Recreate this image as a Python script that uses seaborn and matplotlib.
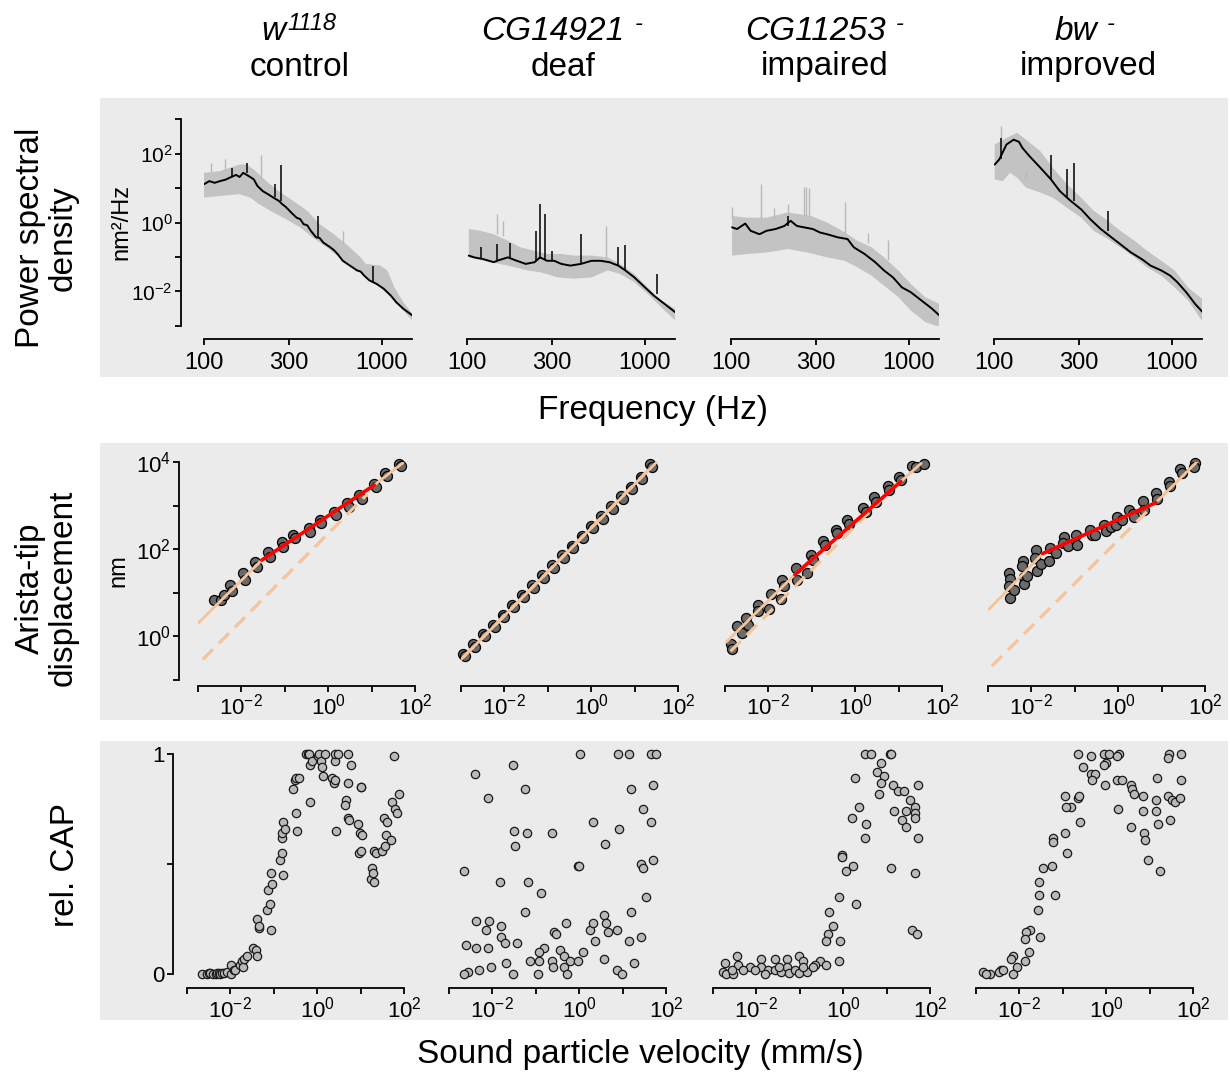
import matplotlib
matplotlib.use('Agg')
import matplotlib.pyplot as plt
import numpy as np
import seaborn as sns
from matplotlib.patches import Rectangle
from matplotlib.ticker import FixedLocator, FixedFormatter, NullLocator

# ---------------- data (log10 values) ----------------
GENE_NAMES = ['w', 'CG14921', 'CG11253', 'bw']
GENE_SUPS = ['1118', '-', '-', '-']
PHENOTYPES = ['control', 'deaf', 'impaired', 'improved']

# power spectral density: mean curve, band upper/lower, spikes (log10 Hz, log10 nm^2/Hz)
w_psd_f = [2.00, 2.03, 2.06, 2.09, 2.12, 2.145, 2.18, 2.20, 2.22, 2.25, 2.28, 2.30, 2.33, 2.36, 2.39, 2.42, 2.44,
           2.46, 2.49, 2.52, 2.54, 2.56, 2.58, 2.60, 2.63, 2.65, 2.67, 2.71, 2.73, 2.75, 2.78, 2.82, 2.86, 2.88,
           2.90, 2.93, 2.97, 3.01, 3.05, 3.08, 3.12, 3.17]
w_psd_p = [1.11, 1.20, 1.15, 1.20, 1.24, 1.30, 1.38, 1.32, 1.44, 1.35, 1.25, 1.06, 0.91, 0.82, 0.72, 0.63, 0.53,
           0.45, 0.29, 0.14, 0.10, -0.05, -0.08, -0.24, -0.43, -0.45, -0.58, -0.72, -0.80, -0.91, -1.11, -1.25,
           -1.39, -1.42, -1.54, -1.68, -1.78, -1.92, -2.12, -2.31, -2.50, -2.69]
w_up_f = [2.00, 2.09, 2.20, 2.24, 2.29, 2.35, 2.43, 2.50, 2.58, 2.65, 2.73, 2.80, 2.88, 2.91, 2.99, 3.03, 3.07, 3.12, 3.17]
w_up_p = [1.44, 1.49, 1.68, 1.68, 1.49, 1.20, 0.87, 0.63, 0.34, -0.05, -0.34, -0.63, -1.01, -1.20, -1.25, -1.39, -1.88, -2.31, -2.64]
w_lo_f = [2.00, 2.09, 2.20, 2.26, 2.31, 2.39, 2.46, 2.54, 2.61, 2.69, 2.76, 2.84, 2.91, 2.99, 3.07, 3.12, 3.17]
w_lo_p = [0.72, 0.77, 0.82, 0.72, 0.53, 0.29, 0.10, -0.14, -0.43, -0.72, -1.01, -1.30, -1.59, -1.88, -2.26, -2.55, -2.84]
w_spk_f = [2.16, 2.24, 2.40, 2.43, 2.64, 2.95]
w_spk_lo = [1.32, 1.44, 0.75, 0.62, -0.45, -1.75]
w_spk_hi = [1.59, 1.73, 1.11, 1.66, 0.19, -1.25]
w_gspk_f = [2.04, 2.12, 2.32, 2.78]
w_gspk_lo = [1.45, 1.50, 1.30, -0.60]
w_gspk_hi = [1.73, 1.83, 1.97, -0.24]

d_psd_f = [2.01, 2.04, 2.09, 2.15, 2.18, 2.23, 2.28, 2.33, 2.38, 2.41, 2.45, 2.49, 2.53, 2.58, 2.64, 2.70, 2.75,
           2.80, 2.85, 2.89, 2.94, 3.00, 3.05, 3.11, 3.17]
d_psd_p = [-0.96, -1.01, -1.06, -1.15, -1.09, -1.01, -1.11, -1.20, -1.15, -1.01, -1.11, -1.11, -1.20, -1.25, -1.20,
           -1.11, -1.11, -1.15, -1.25, -1.39, -1.59, -1.88, -2.12, -2.36, -2.60]
d_up_f = [2.01, 2.075, 2.15, 2.23, 2.30, 2.38, 2.45, 2.53, 2.60, 2.70, 2.79, 2.86, 2.94, 3.015, 3.09, 3.17]
d_up_p = [-0.19, -0.24, -0.34, -0.53, -0.72, -0.82, -0.91, -0.91, -0.96, -0.96, -1.01, -1.20, -1.49, -1.88, -2.26, -2.50]
d_lo_f = [2.01, 2.13, 2.23, 2.34, 2.41, 2.51, 2.60, 2.70, 2.79, 2.86, 2.94, 3.015, 3.09, 3.17]
d_lo_p = [-1.01, -1.15, -1.25, -1.39, -1.44, -1.59, -1.63, -1.59, -1.39, -1.49, -1.73, -2.07, -2.45, -2.84]
d_spk_f = [2.08, 2.17, 2.24, 2.39, 2.41, 2.44, 2.48, 2.64, 2.85, 2.89, 3.07]
d_spk_lo = [-1.06, -1.12, -1.02, -1.12, -1.05, -1.10, -1.11, -1.20, -1.25, -1.39, -2.08]
d_spk_hi = [-0.72, -0.63, -0.58, -0.24, 0.55, 0.24, -0.84, -0.32, -0.72, -0.65, -1.49]
d_gspk_f = [2.17, 2.20, 2.78]
d_gspk_lo = [-0.34, -0.40, -1.00]
d_gspk_hi = [0.26, 0.05, -0.10]

i_psd_f = [2.006, 2.034, 2.08, 2.11, 2.16, 2.20, 2.25, 2.30, 2.335, 2.37, 2.41, 2.46, 2.50, 2.54, 2.60, 2.655,
           2.69, 2.75, 2.81, 2.86, 2.91, 2.96, 3.01, 3.07, 3.13, 3.17]
i_psd_p = [-0.14, -0.19, -0.03, -0.24, -0.34, -0.24, -0.19, -0.10, 0.05, -0.10, -0.14, -0.19, -0.29, -0.34, -0.43,
           -0.48, -0.72, -0.91, -1.15, -1.39, -1.59, -1.88, -2.02, -2.26, -2.50, -2.69]
i_up_f = [2.006, 2.09, 2.20, 2.32, 2.45, 2.54, 2.64, 2.71, 2.79, 2.86, 2.94, 3.01, 3.09, 3.17]
i_up_p = [0.19, 0.14, 0.14, 0.29, 0.19, 0.00, -0.29, -0.53, -0.72, -1.01, -1.39, -1.78, -2.16, -2.36]
i_lo_f = [2.006, 2.10, 2.20, 2.32, 2.43, 2.54, 2.64, 2.71, 2.79, 2.86, 2.94, 3.01, 3.09, 3.17]
i_lo_p = [-0.96, -0.91, -0.87, -0.77, -0.87, -1.01, -1.11, -1.30, -1.54, -1.83, -2.16, -2.55, -2.88, -3.03]
i_spk_f = [2.32]
i_spk_lo = [-0.10]
i_spk_hi = [0.19]
i_gspk_f = [2.006, 2.17, 2.24, 2.32, 2.41, 2.42, 2.44, 2.64, 2.77, 2.88]
i_gspk_lo = [0.10, 0.10, 0.10, 0.20, 0.20, 0.20, 0.20, -0.30, -0.60, -1.10]
i_gspk_hi = [0.45, 1.11, 0.43, 0.55, 1.03, 1.03, 0.99, 0.58, -0.31, -0.51]

b_psd_f = [2.004, 2.03, 2.07, 2.11, 2.14, 2.16, 2.20, 2.26, 2.32, 2.37, 2.43, 2.49, 2.54, 2.60, 2.66, 2.71, 2.77,
           2.83, 2.88, 2.94, 2.99, 3.03, 3.08, 3.13, 3.18]
b_psd_p = [1.68, 1.83, 2.26, 2.40, 2.34, 2.16, 1.92, 1.59, 1.25, 0.91, 0.63, 0.38, 0.10, -0.19, -0.43, -0.63, -0.87,
           -1.06, -1.25, -1.39, -1.54, -1.73, -2.02, -2.36, -2.64]
b_up_f = [2.004, 2.07, 2.13, 2.18, 2.26, 2.33, 2.41, 2.49, 2.56, 2.64, 2.71, 2.79, 2.86, 2.94, 3.015, 3.09, 3.18]
b_up_p = [2.26, 2.45, 2.60, 2.40, 2.07, 1.59, 1.11, 0.72, 0.34, 0.05, -0.24, -0.53, -0.82, -1.11, -1.39, -1.88, -2.26]
b_lo_f = [2.004, 2.05, 2.09, 2.13, 2.18, 2.26, 2.33, 2.41, 2.49, 2.56, 2.64, 2.71, 2.79, 2.86, 2.94, 3.015, 3.09, 3.18]
b_lo_p = [1.25, 1.20, 1.44, 1.30, 1.01, 0.87, 0.72, 0.43, 0.14, -0.24, -0.48, -0.72, -1.01, -1.30, -1.54, -1.88, -2.26, -2.93]
b_spk_f = [2.04, 2.32, 2.41, 2.45, 2.64]
b_spk_lo = [1.85, 1.25, 0.75, 0.62, -0.25]
b_spk_hi = [2.45, 1.97, 1.54, 1.73, 0.34]
b_gspk_f = [2.04, 2.18]
b_gspk_lo = [2.30, 1.30]
b_gspk_hi = [2.79, 1.49]

# arista-tip displacement vs sound particle velocity (log10 mm/s, log10 nm)
w_dv = [-2.62, -2.47, -2.39, -2.27, -2.21, -1.96, -1.92, -1.69, -1.65, -1.38, -1.34, -1.07, -1.03, -0.80, -0.76, -0.45,
        -0.41, -0.18, -0.16, 0.13, 0.17, 0.43, 0.48, 0.71, 0.77, 1.05, 1.10, 1.31, 1.36, 1.64, 1.68]
w_dx = [0.84, 0.84, 0.95, 1.18, 1.03, 1.45, 1.30, 1.71, 1.60, 1.94, 1.81, 2.17, 2.06, 2.32, 2.25, 2.48, 2.40, 2.67,
        2.59, 2.86, 2.78, 3.06, 2.97, 3.24, 3.16, 3.50, 3.43, 3.75, 3.67, 3.96, 3.90]
w_fit_v, w_fit_x = [-3.00, -1.53, 1.06, 1.72], [0.30, 1.75, 3.47, 3.98]
w_lin_v, w_lin_x = [-2.89, 0.90], [-0.53, 3.26]
w_red_v, w_red_x = [-1.53, 1.06], [1.75, 3.47]

d_dv = [-2.95, -2.90, -2.72, -2.68, -2.50, -2.45, -2.27, -2.22, -2.04, -2.00, -1.82, -1.77, -1.59, -1.54, -1.36,
        -1.31, -1.13, -1.09, -0.91, -0.86, -0.68, -0.63, -0.45, -0.41, -0.22, -0.18, 0.00, 0.05, 0.23, 0.27, 0.45,
        0.50, 0.68, 0.73, 0.91, 0.95, 1.14, 1.18, 1.36, 1.41]
d_dx = [-0.41, -0.45, -0.18, -0.24, 0.05, 0.00, 0.27, 0.22, 0.50, 0.44, 0.72, 0.67, 0.95, 0.90, 1.18, 1.12, 1.41,
        1.35, 1.63, 1.58, 1.86, 1.80, 2.08, 2.03, 2.31, 2.25, 2.53, 2.48, 2.76, 2.70, 2.98, 2.93, 3.21, 3.15, 3.43,
        3.38, 3.66, 3.60, 3.95, 3.88]
d_fit_v, d_fit_x = [-3.00, 1.51], [-0.53, 4.00]
d_lin_v, d_lin_x = [-2.95, 1.45], [-0.48, 3.95]
d_red_v, d_red_x = [], []

i_dv = [-2.87, -2.83, -2.72, -2.60, -2.52, -2.48, -2.24, -2.25, -1.95, -1.98, -1.72, -1.68, -1.64, -1.37, -1.33,
        -1.10, -1.02, -0.98, -0.75, -0.70, -0.45, -0.41, -0.18, -0.14, 0.19, 0.25, 0.44, 0.48, 0.75, 0.78, 1.02,
        1.05, 1.32, 1.40, 1.58]
i_dx = [-0.18, -0.30, 0.25, 0.08, 0.43, 0.27, 0.72, 0.58, 0.98, 0.62, 0.86, 1.30, 1.15, 1.57, 1.30, 1.46, 1.87,
        1.76, 2.18, 2.10, 2.45, 2.37, 2.67, 2.58, 2.94, 2.86, 3.19, 3.09, 3.44, 3.36, 3.66, 3.59, 3.91, 3.89, 3.95]
i_fit_v, i_fit_x = [-2.98, -1.39, 1.05, 1.52], [-0.14, 1.42, 3.55, 3.97]
i_lin_v, i_lin_x = [-2.87, 1.00], [-0.34, 3.53]
i_red_v, i_red_x = [-1.39, 1.05], [1.42, 3.55]

b_dv = [-2.52, -2.50, -2.52, -2.50, -2.39, -2.19, -2.21, -2.16, -2.17, -2.09, -1.90, -1.92, -1.86, -1.78, -1.59,
        -1.57, -1.43, -1.24, -1.28, -1.16, -0.97, -0.95, -0.66, -0.60, -0.54, -0.33, -0.29, -0.17, -0.06, -0.02,
        0.08, 0.25, 0.35, 0.37, 0.58, 0.60, 0.87, 0.89, 1.16, 1.20, 1.43, 1.47, 1.78, 1.74]
b_dx = [1.46, 1.32, 1.15, 0.88, 1.07, 1.72, 1.62, 1.36, 1.21, 1.38, 1.99, 1.80, 1.49, 1.65, 1.74, 2.03, 1.91, 2.29,
        2.14, 2.08, 2.33, 2.10, 2.45, 2.33, 2.33, 2.56, 2.41, 2.52, 2.56, 2.75, 2.66, 2.90, 2.81, 2.74, 3.11, 2.90,
        3.30, 3.15, 3.55, 3.44, 3.83, 3.74, 3.97, 3.89]
b_fit_v, b_fit_x = [-2.98, -1.74, 0.87, 1.82], [0.62, 1.90, 3.07, 4.01]
b_lin_v, b_lin_x = [-2.91, 0.85], [-0.68, 3.05]
b_red_v, b_red_x = [-1.74, 0.87], [1.90, 3.07]

# relative compound action potential vs sound particle velocity (log10 mm/s, rel.)
w_cv = [-2.65, -2.55, -2.49, -2.46, -2.40, -2.34, -2.30, -2.27, -2.23, -2.19, -2.14, -2.08, -1.98, -1.98, -1.92,
        -1.89, -1.77, -1.73, -1.70, -1.68, -1.62, -1.47, -1.42, -1.38, -1.38, -1.35, -1.33, -1.15, -1.09, -1.13,
        -1.07, -1.07, -1.03, -0.86, -0.80, -0.78, -0.82, -0.80, -0.78, -0.75, -0.56, -0.52, -0.48, -0.43, -0.49,
        -0.46, -0.25, -0.21, -0.19, -0.17, -0.16, -0.12, 0.02, 0.05, 0.09, 0.11, 0.13, 0.17, 0.34, 0.38, 0.40, 0.42,
        0.42, 0.43, 0.47, 0.70, 0.70, 0.66, 0.65, 0.72, 0.74, 0.78, 1.00, 1.02, 0.93, 0.98, 1.04, 0.97, 1.00, 1.23,
        1.27, 1.29, 1.31, 1.31, 1.36, 1.50, 1.54, 1.57, 1.59, 1.61, 1.71, 1.73, 1.76, 1.80, 1.84, 1.88]
w_cap = [0.00, 0.00, 0.003, 0.003, 0.00, 0.00, 0.006, 0.003, 0.00, 0.006, 0.003, 0.01, 0.00, 0.04, 0.02, 0.02, 0.04,
         0.06, 0.03, 0.07, 0.08, 0.12, 0.11, 0.08, 0.25, 0.21, 0.22, 0.29, 0.32, 0.38, 0.20, 0.46, 0.41, 0.52, 0.55,
         0.45, 0.62, 0.64, 0.69, 0.66, 0.84, 0.88, 0.89, 0.89, 0.73, 0.65, 1.00, 1.00, 1.00, 0.95, 0.78, 0.97, 0.99,
         1.00, 0.97, 0.94, 0.90, 1.00, 0.89, 0.87, 0.97, 1.00, 0.88, 0.65, 1.00, 1.00, 0.87, 0.79, 0.77, 0.71, 0.70,
         0.95, 0.85, 0.85, 0.68, 0.64, 0.63, 0.55, 0.56, 0.43, 0.48, 0.46, 0.42, 0.56, 0.55, 0.56, 0.71, 0.58, 0.63,
         0.69, 0.61, 0.78, 0.99, 0.75, 0.73, 0.82]

d_cv = [0.02, 0.90, 1.15, 1.65, 1.78, -2.40, -1.53, -2.09, -1.25, 1.19, 1.70, 1.47, 1.66, 0.31, 0.91, -1.50, -1.21,
        -0.63, 0.60, -1.47, -0.03, 0.00, 1.42, 1.47, 1.70, -2.65, -1.83, -1.18, -0.88, 1.55, -1.24, 0.56, 1.20, -2.38,
        -2.08, -2.14, -1.80, -1.80, -1.72, -1.43, -0.31, -0.59, -0.53, 0.25, 0.31, 0.62, 0.67, 0.86, 0.37, 1.15, 1.42,
        -2.60, -2.38, -2.11, -0.82, -0.92, -0.44, 0.08, -1.14, -0.93, -0.63, -0.34, -0.21, -0.03, 0.56, -1.68, -2.04,
        -2.32, -2.57, -2.65, -1.53, -0.95, -0.60, -0.36, -0.28, 0.86, 0.98, 1.27]
d_cap = [1.00, 1.00, 1.00, 1.00, 1.00, 0.91, 0.95, 0.80, 0.84, 0.84, 0.86, 0.75, 0.69, 0.69, 0.66, 0.65, 0.64, 0.64,
         0.59, 0.58, 0.49, 0.49, 0.50, 0.48, 0.52, 0.47, 0.42, 0.42, 0.37, 0.35, 0.28, 0.27, 0.28, 0.24, 0.24, 0.20,
         0.22, 0.17, 0.14, 0.14, 0.23, 0.19, 0.18, 0.20, 0.23, 0.23, 0.19, 0.20, 0.15, 0.15, 0.17, 0.13, 0.12, 0.12,
         0.12, 0.10, 0.11, 0.10, 0.06, 0.06, 0.06, 0.08, 0.06, 0.06, 0.07, 0.05, 0.03, 0.02, 0.01, 0.00, 0.00, 0.00,
         0.03, 0.03, 0.00, 0.02, 0.00, 0.05]

i_cv = [0.50, 0.63, 1.07, 1.11, 0.86, 0.79, 0.95, 0.88, 0.82, 0.27, 1.15, 1.26, 1.40, 1.53, 1.73, 0.37, 0.20, 0.52,
        0.50, 1.17, 1.44, 1.36, 1.45, 1.66, 1.66, 1.66, 1.73, -0.03, -0.03, 0.06, 0.22, 1.09, 1.66, -0.09, 0.30,
        -0.32, -0.24, -0.34, -0.40, -0.08, 1.59, 1.69, -0.09, -0.53, -0.40, -0.66, -1.01, -0.93, -1.29, -1.58, -1.90,
        -2.44, -2.73, -2.42, -2.15, -1.89, -1.73, -1.58, -1.43, -1.30, -1.24, -1.12, -1.01, -0.84, -0.70, -2.76,
        -2.70, -2.53, -2.31, -2.04, -1.81, -2.57, -1.47, -0.93]
i_cap = [1.00, 1.00, 1.00, 1.00, 0.96, 0.92, 0.90, 0.87, 0.82, 0.89, 0.86, 0.83, 0.83, 0.79, 0.86, 0.76, 0.71, 0.68,
         0.62, 0.74, 0.74, 0.70, 0.67, 0.76, 0.73, 0.71, 0.62, 0.54, 0.53, 0.47, 0.49, 0.48, 0.46, 0.35, 0.32, 0.28,
         0.22, 0.18, 0.15, 0.15, 0.20, 0.18, 0.06, 0.06, 0.04, 0.04, 0.08, 0.06, 0.07, 0.07, 0.07, 0.08, 0.05, 0.04,
         0.03, 0.03, 0.02, 0.02, 0.01, 0.03, 0.003, 0.02, 0.003, 0.01, 0.03, 0.01, 0.00, 0.00, 0.02, 0.02, 0.00,
         0.02, 0.03, 0.03]

b_cv = [-0.65, -0.35, -0.06, 0.06, 0.29, 0.25, 1.45, 1.42, 1.73, -0.54, -0.35, -0.25, -0.32, 0.00, -0.04, -0.02,
        0.25, 0.37, 0.56, 0.60, 0.65, 0.85, 1.17, 1.73, 1.42, 1.52, 1.58, 1.71, 1.14, 1.14, 0.85, 1.19, 1.48, 0.58,
        0.27, 0.87, 0.90, 0.96, 1.23, -0.94, -0.82, -0.92, -0.65, -0.62, -0.60, -0.96, -1.23, -1.22, -0.91, -1.25,
        -1.45, -1.54, -1.55, -1.19, -1.56, -1.75, -1.85, -1.86, -1.52, -1.79, -1.86, -2.06, -2.15, -2.19, -2.14,
        -2.42, -2.46, -2.38, -2.68, -2.83, -2.77]
b_cap = [1.00, 0.99, 1.00, 1.00, 1.00, 0.99, 1.00, 0.98, 1.00, 0.94, 0.91, 0.91, 0.88, 0.96, 0.95, 0.86, 0.88, 0.88,
         0.86, 0.84, 0.82, 0.81, 0.89, 0.88, 0.81, 0.79, 0.78, 0.80, 0.79, 0.74, 0.74, 0.68, 0.70, 0.67, 0.75, 0.64,
         0.61, 0.52, 0.47, 0.81, 0.76, 0.76, 0.80, 0.81, 0.69, 0.64, 0.62, 0.60, 0.55, 0.49, 0.48, 0.42, 0.36, 0.36,
         0.29, 0.20, 0.19, 0.16, 0.17, 0.10, 0.06, 0.03, 0.08, 0.07, 0.00, 0.02, 0.01, 0.02, 0.00, 0.01, 0.00]

PSD = [(w_psd_f, w_psd_p, w_up_f, w_up_p, w_lo_f, w_lo_p, w_spk_f, w_spk_lo, w_spk_hi, w_gspk_f, w_gspk_lo, w_gspk_hi),
       (d_psd_f, d_psd_p, d_up_f, d_up_p, d_lo_f, d_lo_p, d_spk_f, d_spk_lo, d_spk_hi, d_gspk_f, d_gspk_lo, d_gspk_hi),
       (i_psd_f, i_psd_p, i_up_f, i_up_p, i_lo_f, i_lo_p, i_spk_f, i_spk_lo, i_spk_hi, i_gspk_f, i_gspk_lo, i_gspk_hi),
       (b_psd_f, b_psd_p, b_up_f, b_up_p, b_lo_f, b_lo_p, b_spk_f, b_spk_lo, b_spk_hi, b_gspk_f, b_gspk_lo, b_gspk_hi)]
DISP = [(w_dv, w_dx, w_fit_v, w_fit_x, w_lin_v, w_lin_x, w_red_v, w_red_x),
        (d_dv, d_dx, d_fit_v, d_fit_x, d_lin_v, d_lin_x, d_red_v, d_red_x),
        (i_dv, i_dx, i_fit_v, i_fit_x, i_lin_v, i_lin_x, i_red_v, i_red_x),
        (b_dv, b_dx, b_fit_v, b_fit_x, b_lin_v, b_lin_x, b_red_v, b_red_x)]
CAP = [(w_cv, w_cap), (d_cv, d_cap), (i_cv, i_cap), (b_cv, b_cap)]

PSD_YTICKS = [1e-3, 1e-2, 1e-1, 1e0, 1e1, 1e2, 1e3]
PSD_YLABELS = ['', r'$10^{-2}$', '', r'$10^{0}$', '', r'$10^{2}$', '']
FREQ_TICKS = [100, 300, 1000]
DISP_YTICKS = [1e-1, 1e0, 1e1, 1e2, 1e3, 1e4]
DISP_YLABELS = ['', r'$10^{0}$', '', r'$10^{2}$', '', r'$10^{4}$']
VEL_TICKS = [1e-3, 1e-2, 1e-1, 1e0, 1e1, 1e2]
VEL_LABELS = ['', r'$10^{-2}$', '', r'$10^{0}$', '', r'$10^{2}$']

BAND = '#ebebeb'
ORANGE = '#f7c398'
RED = '#ff0000'

# ---------------- style ----------------
sns.set_style('ticks')
plt.rcParams['font.family'] = ['Liberation Sans', 'DejaVu Sans']
plt.rcParams['mathtext.fontset'] = 'custom'
plt.rcParams['mathtext.rm'] = 'Liberation Sans'
plt.rcParams['mathtext.it'] = 'Liberation Sans:italic'
plt.rcParams['mathtext.bf'] = 'Liberation Sans:bold'
for key in ('text.color', 'axes.labelcolor', 'xtick.color', 'ytick.color', 'axes.edgecolor'):
    plt.rcParams[key] = 'black'

W, H = 1230, 1077
fig = plt.figure(figsize=(W / 100, H / 100), dpi=100)
fig.patch.set_facecolor('white')


def px_axes(x0, y0, w, h):
    ax = fig.add_axes([x0 / W, 1 - (y0 + h) / H, w / W, h / H])
    ax.set_facecolor('none')
    return ax


def style(ax, show_left, off_bottom, off_left, labelsize=16):
    ax.spines['top'].set_visible(False)
    ax.spines['right'].set_visible(False)
    ax.spines['bottom'].set_position(('outward', off_bottom))
    ax.spines['left'].set_position(('outward', off_left))
    for s in ('bottom', 'left'):
        ax.spines[s].set_linewidth(1.3)
        ax.spines[s].set_color('black')
    ax.tick_params(axis='both', which='major', direction='out', length=4, width=1.3,
                   color='black', labelcolor='black', labelsize=labelsize, pad=2)
    if not show_left:
        ax.spines['left'].set_visible(False)
        ax.tick_params(axis='y', left=False, labelleft=False)


def set_ticks(axis, ticks, labels):
    axis.set_major_locator(FixedLocator(ticks))
    axis.set_major_formatter(FixedFormatter(labels))
    axis.set_minor_locator(NullLocator())


def fig_text(x, y, s, **kw):
    return fig.text(x / W, 1 - y / H, s, ha='center', va='center', **kw)


# grey background bands
for y0, y1 in [(98, 377), (443, 720), (741, 1020)]:
    fig.patches.append(Rectangle((100 / W, 1 - y1 / H), 1128 / W, (y1 - y0) / H,
                                 transform=fig.transFigure, facecolor=BAND, edgecolor='none', zorder=-5))

# row 1: power spectral density
for k, x0 in enumerate([204, 467, 731, 994]):
    f, p, uf, up, lf, lp, sf, slo, shi, gf, glo, ghi = PSD[k]
    ax = px_axes(x0, 119, 208, 207)
    ax.set_xscale('log')
    ax.set_yscale('log')
    ax.fill(10 ** np.r_[uf, lf[::-1]], 10 ** np.r_[up, lp[::-1]], color='#c3c3c3', lw=0, zorder=1)
    ax.vlines(10 ** np.array(gf), 10 ** np.array(glo), 10 ** np.array(ghi), color='#b9b9b9', lw=1, zorder=1)
    sns.lineplot(x=10 ** np.array(f), y=10 ** np.array(p), ax=ax, color='black', lw=1.4,
                 sort=False, estimator=None, zorder=2)
    ax.vlines(10 ** np.array(sf), 10 ** np.array(slo), 10 ** np.array(shi), color='black', lw=1.1, zorder=2)
    ax.set_xlim(100, 1475)
    ax.set_ylim(1e-3, 1e3)
    style(ax, k == 0, 9.4, 16.6, labelsize=15)
    ax.tick_params(axis='x', labelsize=17, pad=5)
    set_ticks(ax.xaxis, FREQ_TICKS, [str(t) for t in FREQ_TICKS])
    set_ticks(ax.yaxis, PSD_YTICKS, PSD_YLABELS)
    ax.set_xlabel('')
    ax.set_ylabel('')

# row 2: arista-tip displacement
for k, x0 in enumerate([198, 461, 725, 988]):
    v, x, fv, fx, lv, lx, rv, rx = DISP[k]
    ax = px_axes(x0, 462, 217, 218)
    ax.set_xscale('log')
    ax.set_yscale('log')
    sns.scatterplot(x=10 ** np.array(v), y=10 ** np.array(x), ax=ax, s=52, color='#6a6a6a',
                    edgecolor='black', linewidth=0.9, zorder=2, clip_on=False)
    sns.lineplot(x=10 ** np.array(lv), y=10 ** np.array(lx), ax=ax, color=ORANGE, lw=2.3,
                 linestyle=(0, (4.5, 2.6)), sort=False, estimator=None, zorder=3)
    sns.lineplot(x=10 ** np.array(fv), y=10 ** np.array(fx), ax=ax, color=ORANGE, lw=2.0,
                 sort=False, estimator=None, zorder=3)
    if rv:
        sns.lineplot(x=10 ** np.array(rv), y=10 ** np.array(rx), ax=ax, color=RED, lw=2.6,
                     sort=False, estimator=None, zorder=4)
    ax.set_xlim(1e-3, 1e2)
    ax.set_ylim(1e-1, 1e4)
    style(ax, k == 0, 4, 13.7)
    set_ticks(ax.xaxis, VEL_TICKS, VEL_LABELS)
    set_ticks(ax.yaxis, DISP_YTICKS, DISP_YLABELS)
    ax.set_xlabel('')
    ax.set_ylabel('')

# row 3: relative CAP
for k, x0 in enumerate([187, 449, 713, 976]):
    v, c = CAP[k]
    ax = px_axes(x0, 754, 217, 220)
    ax.set_xscale('log')
    sns.scatterplot(x=10 ** np.array(v), y=c, ax=ax, s=36, color='#b9b9b9',
                    edgecolor='#1a1a1a', linewidth=0.9, zorder=2, clip_on=False)
    ax.set_xlim(1e-3, 1e2)
    ax.set_ylim(0, 1)
    style(ax, k == 0, 10, 10)
    set_ticks(ax.xaxis, VEL_TICKS, VEL_LABELS)
    set_ticks(ax.yaxis, [0, 0.5, 1], ['0', '', '1'])
    ax.set_xlabel('')
    ax.set_ylabel('')

# column titles: italic gene name with superscript, phenotype underneath
name_x = [273, 553, 816, 1076]
pheno_x = [300, 563, 825, 1088]
for nx, px, name, sup, ph in zip(name_x, pheno_x, GENE_NAMES, GENE_SUPS, PHENOTYPES):
    t = fig_text(nx, 32, name, fontsize=24, style='italic')
    gap = 2 if sup != '-' else 7
    fig.add_artist(matplotlib.text.Annotation(sup, xy=(1, 0.78), xycoords=t, xytext=(gap, 0),
                                              textcoords='offset points', ha='left', va='center',
                                              fontsize=17, style='italic', color='black'))
    fig_text(px, 67, ph, fontsize=24)

# row and axis labels
fig_text(47, 238, 'Power spectral\ndensity', fontsize=24, rotation=90, linespacing=1.05)
fig_text(47, 588, 'Arista-tip\ndisplacement', fontsize=24, rotation=90, linespacing=1.05)
fig_text(65, 865, 'rel. CAP', fontsize=24, rotation=90)
fig_text(121, 222, 'nm²/Hz', fontsize=17, rotation=90)
fig_text(118, 571, 'nm', fontsize=17, rotation=90)
fig_text(653, 410, 'Frequency (Hz)', fontsize=24)
fig_text(640, 1055, 'Sound particle velocity (mm/s)', fontsize=24)

fig.savefig('out.png', dpi=100, facecolor='white')
